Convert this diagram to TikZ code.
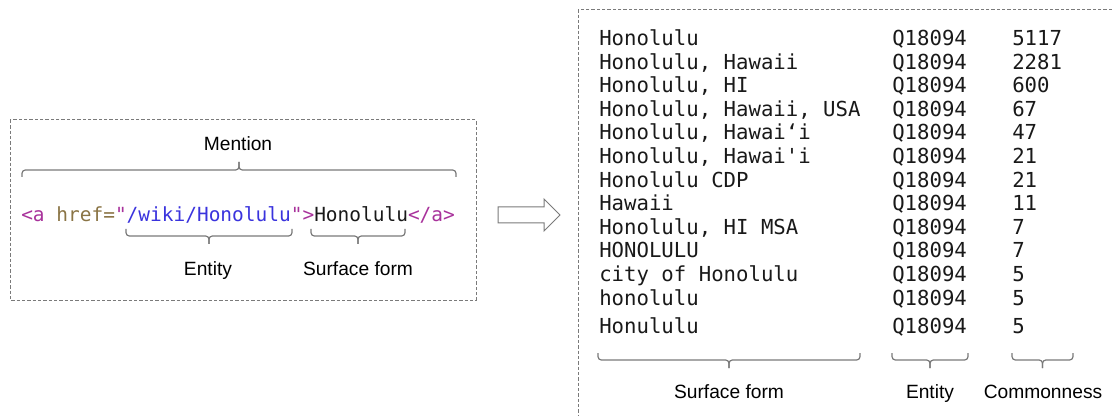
\documentclass[tikz,border=0pt]{standalone}
\usepackage{fontspec}
\setmainfont{Liberation Sans}
\setmonofont{DejaVu Sans Mono}
\definecolor{tagcol}{HTML}{A8329B}
\definecolor{attrcol}{HTML}{8A7445}
\definecolor{strcol}{HTML}{3A33DD}
\definecolor{linecol}{HTML}{7A7A7A}
\tikzset{
  dashbox/.style={draw=linecol, line width=0.75pt, dash pattern=on 2.5pt off 1.5pt},
  bracket/.style={draw=linecol, line width=0.9pt, rounded corners=2.5pt},
  brlabel/.style={font=\fontsize{14.4}{16}\selectfont, anchor=base, inner sep=0pt},
  rowtext/.style={font=\ttfamily\fontsize{15.5}{18}\selectfont, anchor=base west, inner sep=0pt, text=black!90},
}
\begin{document}
\begin{tikzpicture}[x=0.75pt,y=-0.75pt]% 1 unit = 1 px of the reference
	\useasboundingbox (0,0) rectangle (1112,416);
	% the two frames
	\draw[dashbox] (10,120) rectangle (476,300);
	\draw[dashbox] (1112,10) -- (578,10) -- (578,416);
	% the link
	\node[rowtext, font=\ttfamily\fontsize{14.6}{17}\selectfont] (href) at (21,222)
		{\textcolor{tagcol}{<a} \textcolor{attrcol}{href=}\textcolor{tagcol}{"}\textcolor{strcol}{/wiki/Honolulu}\textcolor{tagcol}{">}Honolulu\textcolor{tagcol}{</a>}};
	\node[brlabel] (mention) at (238,151) {Mention};
	\node[brlabel] (entA) at (208,276) {Entity};
	\node[brlabel] (sfA) at (358,276) {Surface form};
	% braces
	\foreach \xa/\xb/\yh/\d in {22/456/170/-1, 126/292/236/1, 311/405/236/1, 598/860/360/1, 892/968/360/1, 1012/1073/360/1}{
		\draw[bracket] ({\xa},{\yh-7*\d}) -- ({\xa},\yh) -- ({(\xa+\xb)/2},\yh) -- ({(\xa+\xb)/2},{\yh+8*\d});
		\draw[bracket] ({\xb},{\yh-7*\d}) -- ({\xb},\yh) -- ({(\xa+\xb)/2},\yh) -- ({(\xa+\xb)/2},{\yh+8*\d});}
	% hollow arrow
	\draw[linecol, line width=0.75pt] (498,207) -- (544,207) -- (544,199) -- (560,215) -- (544,231) -- (544,223) -- (498,223) -- cycle;
	% the table
	\foreach \sf/\cm [count=\i from 0] in {Honolulu/5117, {Honolulu, Hawaii/2281}, {Honolulu, HI/600}, {Honolulu, Hawaii, USA/67}, {Honolulu, Hawai‘i/47}, {Honolulu, Hawai'i/21}, Honolulu CDP/21, Hawaii/11, {Honolulu, HI MSA/7}, HONOLULU/7, city of Honolulu/5, honolulu/5}{
		\node[rowtext] (sf\i) at (599,{45.5+23.6*\i}) {\sf};
		\node[rowtext] (ent\i) at (892,{45.5+23.6*\i}) {Q18094};
		\node[rowtext] (cm\i) at (1012,{45.5+23.6*\i}) {\cm};}
	\node[rowtext] (sf12) at (599,333.5) {Honululu};
	\node[rowtext] (ent12) at (892,333.5) {Q18094};
	\node[rowtext] (cm12) at (1012,333.5) {5};
	\node[brlabel] (sfB) at (729,398) {Surface form};
	\node[brlabel] (entB) at (930,398) {Entity};
	\node[brlabel] (cmB) at (1043,398) {Commonness};
\end{tikzpicture}
\end{document}
